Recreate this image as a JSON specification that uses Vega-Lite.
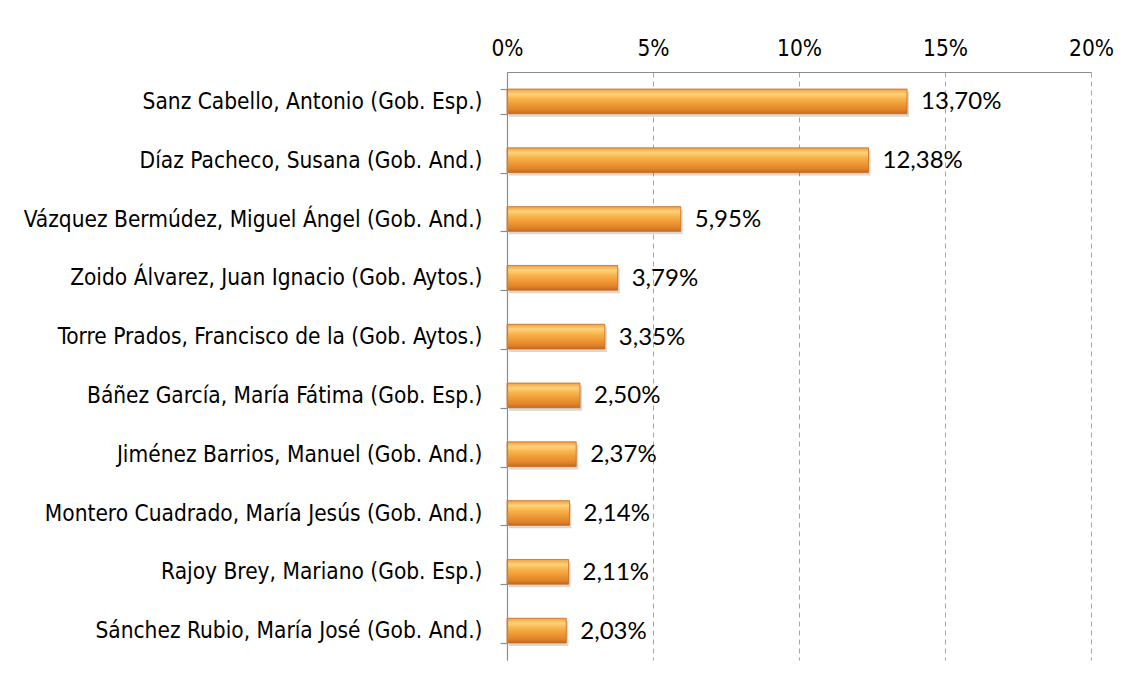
{
  "$schema": "https://vega.github.io/schema/vega-lite/v6.json",
  "autosize": {"type": "none"},
  "padding": {"left": 507, "top": 72, "right": 40, "bottom": 22},
  "width": 584,
  "height": 588,
  "background": "white",
  "data": {
    "values": [
      {"name": "Sanz Cabello, Antonio (Gob. Esp.)", "pct": 0.1370},
      {"name": "Díaz Pacheco, Susana (Gob. And.)", "pct": 0.1238},
      {"name": "Vázquez Bermúdez, Miguel Ángel (Gob. And.)", "pct": 0.0595},
      {"name": "Zoido Álvarez, Juan Ignacio (Gob. Aytos.)", "pct": 0.0379},
      {"name": "Torre Prados, Francisco de la (Gob. Aytos.)", "pct": 0.0335},
      {"name": "Báñez García, María Fátima (Gob. Esp.)", "pct": 0.0250},
      {"name": "Jiménez Barrios, Manuel (Gob. And.)", "pct": 0.0237},
      {"name": "Montero Cuadrado, María Jesús (Gob. And.)", "pct": 0.0214},
      {"name": "Rajoy Brey, Mariano (Gob. Esp.)", "pct": 0.0211},
      {"name": "Sánchez Rubio, María José (Gob. And.)", "pct": 0.0203}
    ]
  },
  "encoding": {
    "y": {
      "field": "name", "type": "nominal", "sort": null, "title": null,
      "scale": {"paddingInner": 0.58, "paddingOuter": 0.29},
      "axis": {
        "tickBand": "extent", "ticks": true, "tickSize": 7, "tickColor": "#8c8c8c", "tickWidth": 1.2,
        "domain": true, "domainColor": "#8c8c8c", "domainWidth": 1.2,
        "labelPadding": 18, "labelLimit": 600,
        "labelFont": "DejaVu Sans Condensed, sans-serif",
        "labelFontSize": 22.5, "labelColor": "#000000", "grid": false, "zindex": 1
      }
    },
    "x": {
      "field": "pct", "type": "quantitative", "title": null,
      "scale": {"domain": [0, 0.2], "nice": false},
      "axis": {
        "orient": "top", "values": [0, 0.05, 0.1, 0.15, 0.2], "format": ".0%",
        "ticks": false, "labelPadding": 12, "labelFlush": false,
        "domain": true, "domainColor": "#8c8c8c", "domainWidth": 1.2,
        "grid": true, "gridDash": [5, 4], "gridColor": "#a6a6a6",
        "labelFont": "DejaVu Sans Condensed, sans-serif",
        "labelFontSize": 22.5, "labelColor": "#000000", "zindex": 0
      }
    }
  },
  "layer": [
    {
      "mark": {"type": "bar", "color": "#6a4a2a", "opacity": 0.22, "xOffset": 2, "yOffset": 3, "x2Offset": 2, "y2Offset": 3}
    },
    {
      "mark": {
        "type": "bar",
        "stroke": "#c8691e", "strokeWidth": 0.8,
        "color": {
          "gradient": "linear", "x1": 0, "y1": 0, "x2": 0, "y2": 1,
          "stops": [
            {"offset": 0, "color": "#eea043"},
            {"offset": 0.2, "color": "#ffd27a"},
            {"offset": 0.38, "color": "#f8b64e"},
            {"offset": 0.62, "color": "#f09a35"},
            {"offset": 0.85, "color": "#e08428"},
            {"offset": 1, "color": "#c46820"}
          ]
        }
      }
    },
    {
      "mark": {
        "type": "text", "align": "left", "baseline": "middle", "dx": 14, "dy": 1,
        "font": "Lato", "fontSize": 24, "color": "#000000"
      },
      "encoding": {"text": {"field": "pct", "type": "quantitative", "format": ".2%"}}
    }
  ],
  "config": {
    "view": {"stroke": null},
    "locale": {"number": {"decimal": ",", "thousands": ".", "grouping": [3], "currency": ["", " €"]}}
  }
}
